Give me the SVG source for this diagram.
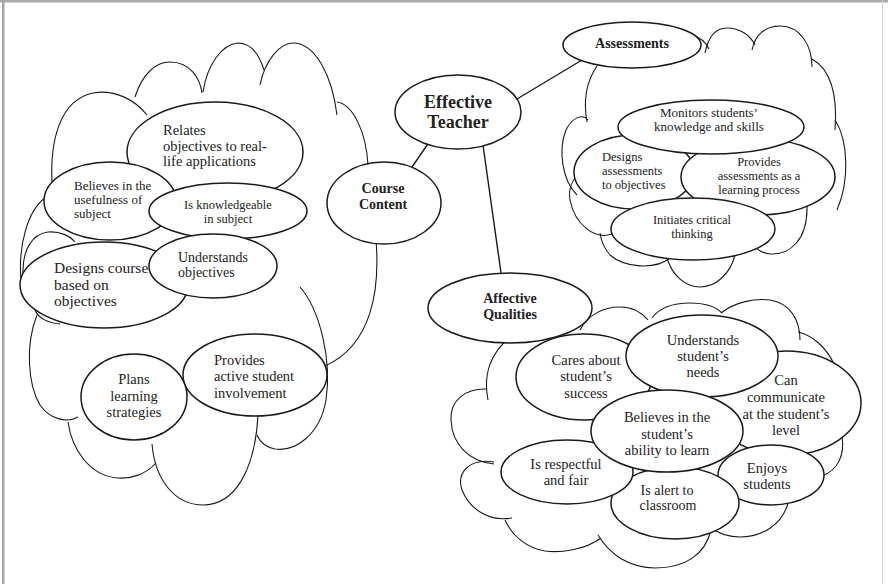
<svg xmlns="http://www.w3.org/2000/svg" width="888" height="584" viewBox="0 0 888 584">
<style>
.e{fill:#fff;stroke:#1a1a1a;stroke-width:1.5}
.c{fill:none;stroke:#1a1a1a;stroke-width:1.1}
.k{stroke:#1a1a1a;stroke-width:1.4;fill:none}
.t{font-family:"Liberation Serif","Times New Roman",serif;fill:#222}
.b{font-weight:bold}
.m{text-anchor:middle}
</style>
<rect x="0" y="0" width="888" height="584" fill="#fff"/>
<rect x="0" y="0" width="888" height="2.5" fill="#a9a9a9"/>
<rect x="2" y="0" width="2.5" height="584" fill="#a5a5a5"/>
<line x1="882.5" y1="0" x2="882.5" y2="584" stroke="#d2d2d2" stroke-width="1"/>

<g id="clouds" class="c">
<path d="M52,182 C50,140 60,100 93,93 C115,89 135,100 147,115"/>
<path d="M135,97 C142,75 155,62 170,62 C190,62 200,78 202,93"/>
<path d="M203,92 C207,65 222,44 238,43 C252,43 260,57 264,70"/>
<path d="M260,85 C265,60 280,43 293,43 C315,43 332,75 337,115"/>
<path d="M337,102 C352,104 366,130 368,165"/>
<path d="M376,240 C380,290 372,345 325,366"/>
<path d="M300,287 C320,310 332,360 326,400 C320,435 295,452 275,449 C265,447 260,442 257,435"/>
<path d="M258,415 C255,470 235,505 203,505 C175,505 155,480 152,444"/>
<path d="M156,463 C145,475 130,479 118,478 C90,476 72,450 68,422"/>
<path d="M78,417 C68,423 50,420 40,405 C28,385 25,345 37,315"/>
<path d="M35,310 C38,318 48,323 60,324"/>
<path d="M23,275 C22,250 32,234 48,232 C60,231 70,236 75,242"/>
<path d="M45,198 C28,210 18,245 21,280"/>

<path d="M690,34 C700,37 706,42 709,49"/>
<path d="M705,53 C708,38 715,28 727,28 C740,28 750,35 755,45"/>
<path d="M752,50 C755,35 765,26 780,26 C800,26 812,45 812,67"/>
<path d="M812,59 C828,68 838,90 835,130"/>
<path d="M835,120 C848,140 850,180 837,210"/>
<path d="M807,205 C808,240 790,255 770,254 C760,253 755,248 752,242"/>
<path d="M735,255 C730,275 715,287 700,287 C685,287 672,275 667,258"/>
<path d="M670,258 C655,270 625,268 610,255 C604,248 601,240 600,233"/>
<path d="M612,234 C595,240 575,225 570,200 C568,188 572,180 580,172"/>
<path d="M577,195 C562,180 558,150 566,130 C572,118 582,113 588,120"/>
<path d="M587,122 C583,100 586,82 597,66"/>

<path d="M580,330 C588,315 603,307 620,307 C633,307 642,313 648,320"/>
<path d="M652,318 C660,307 675,303 690,303 C705,303 716,307 722,313"/>
<path d="M721,313 C735,302 755,298 770,300 C790,303 800,320 800,340"/>
<path d="M798,332 C812,335 826,347 834,364"/>
<path d="M842,436 C845,455 838,470 822,476"/>
<path d="M788,503 C782,525 762,537 740,537 C728,537 718,533 711,528"/>
<path d="M711,530 C705,555 685,568 655,568 C630,568 610,555 598,535"/>
<path d="M601,538 C585,550 560,553 545,551 C527,548 512,536 505,520"/>
<path d="M512,518 C490,522 470,510 462,490 C456,472 470,458 494,462"/>
<path d="M494,464 C470,462 452,445 451,420 C450,400 466,388 487,389"/>
<path d="M488,400 C483,375 490,352 512,336"/>
</g>

<g id="connectors" class="k">
<line x1="512" y1="102" x2="582" y2="60"/>
<line x1="432" y1="138" x2="412" y2="167"/>
<line x1="482" y1="138" x2="502" y2="280"/>
</g>

<g id="relates"><ellipse class="e" cx="215" cy="152" rx="88" ry="50"/>
<text class="t" font-size="14.5"><tspan x="163" y="135">Relates</tspan><tspan x="163" y="151">objectives to real<tspan class="b">-</tspan></tspan><tspan x="163" y="166">life applications</tspan></text></g>
<g id="believes-useful"><ellipse class="e" cx="110" cy="201" rx="66" ry="39"/>
<text class="t" font-size="13"><tspan x="74" y="190">Believes in the</tspan><tspan x="74" y="204">usefulness of</tspan><tspan x="74" y="218">subject</tspan></text></g>
<g id="knowledgeable"><ellipse class="e" cx="228" cy="211" rx="79" ry="28"/>
<text class="t m" font-size="12.5"><tspan x="228" y="209">Is knowledgeable</tspan><tspan x="228" y="223">in subject</tspan></text></g>
<g id="designs-course"><ellipse class="e" cx="104" cy="285" rx="84" ry="43"/>
<text class="t" font-size="15.5"><tspan x="54" y="273">Designs course</tspan><tspan x="54" y="290">based on</tspan><tspan x="54" y="306">objectives</tspan></text></g>
<g id="understands-objectives"><ellipse class="e" cx="213" cy="266" rx="64" ry="32"/>
<text class="t" font-size="14"><tspan x="178" y="262">Understands</tspan><tspan x="178" y="277">objectives</tspan></text></g>
<g id="provides-active"><ellipse class="e" cx="255" cy="375" rx="72" ry="41"/>
<text class="t" font-size="14.5"><tspan x="214" y="365">Provides</tspan><tspan x="214" y="381">active student</tspan><tspan x="214" y="398">involvement</tspan></text></g>
<g id="plans"><ellipse class="e" cx="134" cy="397" rx="53" ry="43"/>
<text class="t m" font-size="14.5"><tspan x="134" y="384">Plans</tspan><tspan x="134" y="401">learning</tspan><tspan x="134" y="417">strategies</tspan></text></g>

<g id="course-content"><ellipse class="e" cx="384" cy="203" rx="57" ry="41"/>
<text class="t m b" font-size="14"><tspan x="383" y="193">Course</tspan><tspan x="383" y="209">Content</tspan></text></g>
<g id="effective-teacher"><ellipse class="e" cx="458" cy="112" rx="63" ry="37"/>
<text class="t m b" font-size="18"><tspan x="458" y="108">Effective</tspan><tspan x="458" y="128">Teacher</tspan></text></g>
<g id="affective-qualities"><ellipse class="e" cx="510" cy="308" rx="82" ry="35"/>
<text class="t m b" font-size="14"><tspan x="510" y="303">Affective</tspan><tspan x="510" y="319">Qualities</tspan></text></g>
<g id="assessments"><ellipse class="e" cx="632" cy="45" rx="69" ry="23"/>
<text class="t m b" font-size="14" x="632" y="48">Assessments</text></g>

<g id="designs-assessments"><ellipse class="e" cx="634" cy="172" rx="60" ry="37"/>
<text class="t" font-size="12.5"><tspan x="602" y="161">Designs</tspan><tspan x="602" y="175">assessments</tspan><tspan x="602" y="189">to objectives</tspan></text></g>
<g id="provides-assessments"><ellipse class="e" cx="758" cy="177" rx="77" ry="38"/>
<text class="t m" font-size="12.5"><tspan x="759" y="166">Provides</tspan><tspan x="759" y="180">assessments as a</tspan><tspan x="759" y="194">learning process</tspan></text></g>
<g id="monitors"><ellipse class="e" cx="711" cy="127" rx="93" ry="27"/>
<text class="t m" font-size="13"><tspan x="709" y="117">Monitors students’</tspan><tspan x="709" y="131">knowledge and skills</tspan></text></g>
<g id="initiates"><ellipse class="e" cx="693" cy="229" rx="82" ry="31"/>
<text class="t m" font-size="12.5"><tspan x="692" y="224">Initiates critical</tspan><tspan x="692" y="238">thinking</tspan></text></g>

<g id="can-communicate"><ellipse class="e" cx="786" cy="403" rx="75" ry="52"/>
<text class="t m" font-size="14.5"><tspan x="786" y="385">Can</tspan><tspan x="786" y="402">communicate</tspan><tspan x="786" y="419">at the student’s</tspan><tspan x="786" y="435">level</tspan></text></g>
<g id="enjoys"><ellipse class="e" cx="771" cy="475" rx="53" ry="30"/>
<text class="t m" font-size="14.5"><tspan x="767" y="473">Enjoys</tspan><tspan x="767" y="489">students</tspan></text></g>
<g id="alert"><ellipse class="e" cx="675" cy="503" rx="64" ry="36"/>
<text class="t m" font-size="14"><tspan x="667" y="495">Is alert to</tspan><tspan x="668" y="510">classroom</tspan></text></g>
<g id="respectful"><ellipse class="e" cx="567" cy="472" rx="66" ry="32"/>
<text class="t m" font-size="14.5"><tspan x="566" y="469">Is respectful</tspan><tspan x="566" y="485">and fair</tspan></text></g>
<g id="cares"><ellipse class="e" cx="584" cy="377" rx="68" ry="43"/>
<text class="t m" font-size="14.5"><tspan x="586" y="365">Cares about</tspan><tspan x="586" y="381">student’s</tspan><tspan x="586" y="398">success</tspan></text></g>
<g id="understands-needs"><ellipse class="e" cx="702" cy="356" rx="76" ry="41"/>
<text class="t m" font-size="14.5"><tspan x="703" y="345">Understands</tspan><tspan x="703" y="361">student’s</tspan><tspan x="703" y="377">needs</tspan></text></g>
<g id="believes-ability"><ellipse class="e" cx="667" cy="431" rx="76" ry="41"/>
<text class="t m" font-size="14.5"><tspan x="667" y="422">Believes in the</tspan><tspan x="667" y="439">student’s</tspan><tspan x="667" y="455">ability to learn</tspan></text></g>
</svg>
